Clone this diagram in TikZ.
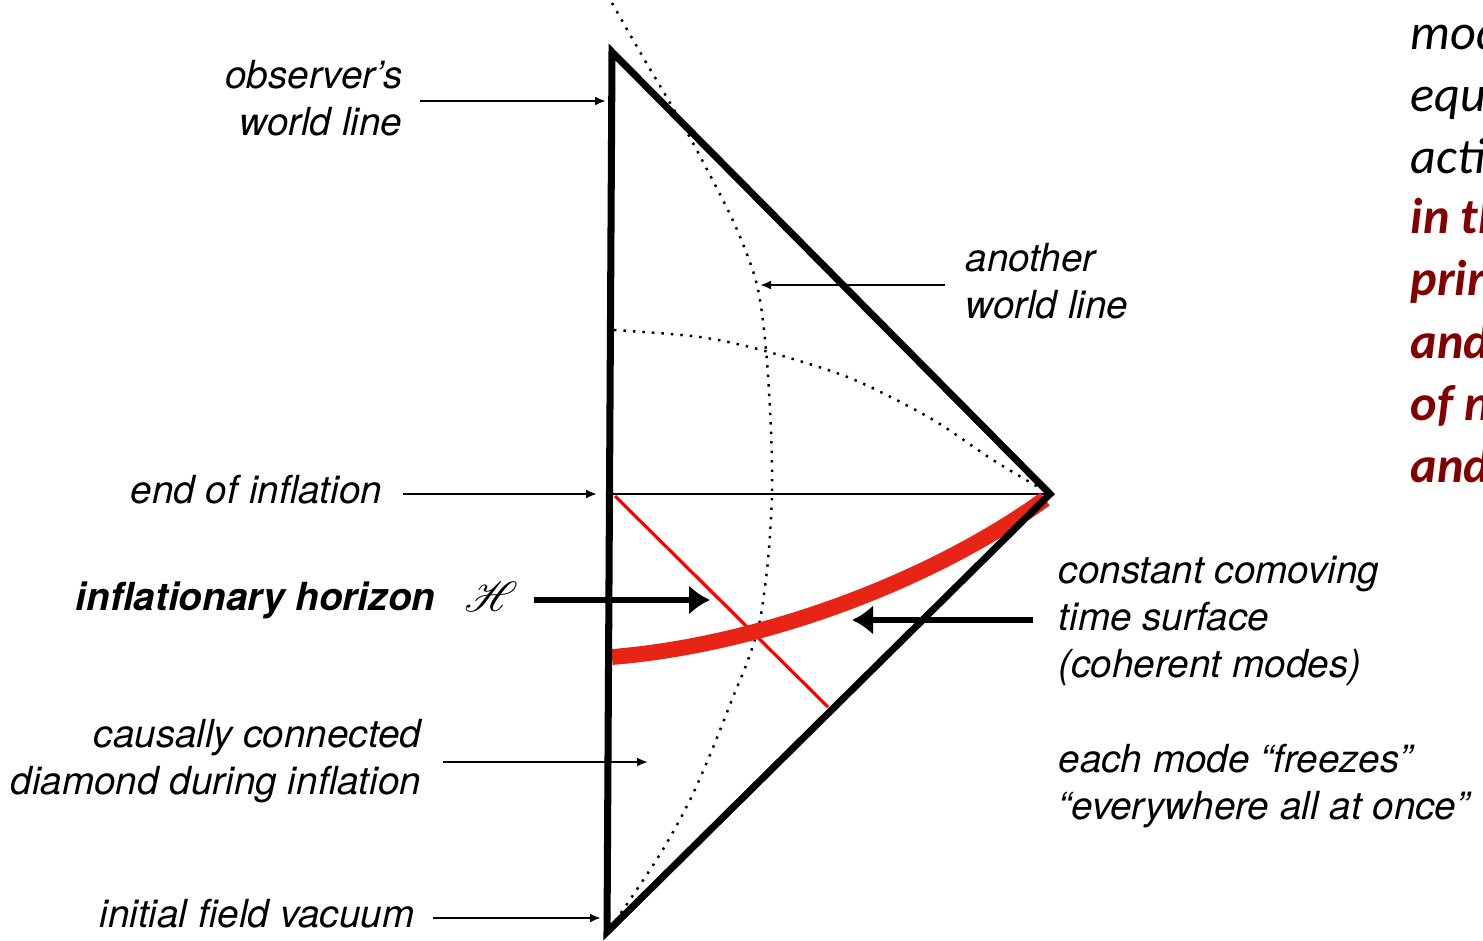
\documentclass[tikz,border=0pt]{standalone}
\usepackage{fontspec}
\setmainfont{TeX Gyre Heros}
\newfontfamily\calibrifont{Carlito}
\usepackage{mathrsfs}
\usetikzlibrary{arrows.meta}
\definecolor{sprayred}{RGB}{232,36,22}
\definecolor{darkred}{RGB}{130,0,0}

\begin{document}
\begin{tikzpicture}[x=0.01cm, y=-0.01cm,
		lbl/.style={font=\itshape\fontsize{11}{13.4}\selectfont, inner sep=0pt},
		thinarr/.style={-{Latex[length=1.1mm,width=0.9mm]}, line width=0.6pt},
		thickarr/.style={-{Latex[length=2.1mm,width=3mm]}, line width=1.7pt},
		side/.style={font=\calibrifont\itshape\fontsize{14.3}{17.6}\selectfont, inner sep=0pt, anchor=base west}]
	\useasboundingbox (0,0) rectangle (1483,940);
		\coordinate (top) at (612,52);
		\coordinate (apex) at (1050,494);
		\coordinate (bottom) at (607,932);
		\coordinate (endleft) at (612,494);
		% world lines and slices
		\draw [dotted, line width=0.7pt] plot [smooth] coordinates {(612,3) (640,52) (680,120) (702,160) (735,225) (757,285) (766,350) (771,430) (772,494) (768,560) (760,620) (748,660) (733,697) (712,750) (690,800) (662,851) (625,907) (607,932)};
		\draw [dotted, line width=0.7pt] plot [smooth] coordinates {(614,330) (700,337) (765,351) (850,378) (930,418) (993,460) (1050,494)};
		\draw [line width=0.5pt] (endleft) -- (apex);
		\draw [red, line width=0.9pt] (615,496) -- (828,707);
		\draw [sprayred, line width=4.5pt] (612,657) .. controls (760,645) and (930,582) .. (1045,499);
		% conformal diagram
		\draw [line width=2pt, line join=miter] (top) -- (apex) -- (bottom) -- cycle;

		% labels on the left
		\node [lbl, anchor=east, align=right] (observer) at (403,98) {observer’s\\world line};
		\coordinate (observertip) at (606,101);
		\draw [thinarr, shorten <=0.17cm] (observer.east |- observertip) -- (observertip);

		\node [lbl, anchor=east] (endinfl) at (383,490) {end of inflation};
		\coordinate (endtip) at (597,494);
		\draw [thinarr, shorten <=0.2cm] (endinfl.east |- endtip) -- (endtip);

		\node [lbl, anchor=east, font=\bfseries\itshape\fontsize{11}{13.4}\selectfont] (horizon) at (436,600) {inflationary horizon};
		\node [inner sep=0pt, font=\fontsize{11.5}{13}\selectfont] (scriptH) at (491,597) {$\mathscr{H}$};
		\coordinate (horizontip) at (710,600);
		\draw [thickarr, shorten <=0.16cm] (scriptH.east |- horizontip) -- (horizontip);

		\node [lbl, anchor=east, align=right] (diamond) at (422,761) {causally connected\\diamond during inflation};
		\coordinate (diamondtip) at (648,762);
		\draw [thinarr, shorten <=0.21cm] (diamond.east |- diamondtip) -- (diamondtip);

		\node [lbl, anchor=east] (vacuum) at (415,914) {initial field vacuum};
		\coordinate (vacuumtip) at (601,918);
		\draw [thinarr, shorten <=0.18cm] (vacuum.east |- vacuumtip) -- (vacuumtip);

		% labels on the right
		\node [lbl, anchor=west, align=left] (another) at (965,281) {another\\world line};
		\coordinate (anothertip) at (760,285);
		\draw [thinarr, shorten <=0.2cm] (another.west |- anothertip) -- (anothertip);

		\node [lbl, anchor=west, align=left] (surface) at (1058,621) {constant comoving\\time surface\\(coherent modes)};
		\coordinate (surfacetip) at (852,620);
		\draw [thickarr, shorten <=0.25cm] (surface.west |- surfacetip) -- (surfacetip);

		\node [lbl, anchor=west, align=left] (freeze) at (1058,786) {each mode “freezes”\\“everywhere all at once”};

		% cut-off text at the edge
		\foreach \txt [count=\i] in {mod, equ, acti}
			\node [side] (black\i) at (1410, {50+62*(\i-1)}) {\txt};
		\foreach \txt [count=\i] in {in th, prir, and, of n, and}
			\node [side, text=darkred, font=\calibrifont\bfseries\itshape\fontsize{14.3}{17.6}\selectfont] (red\i) at (1410, {234+62*(\i-1)}) {\txt};
	\end{tikzpicture}
\end{document}
